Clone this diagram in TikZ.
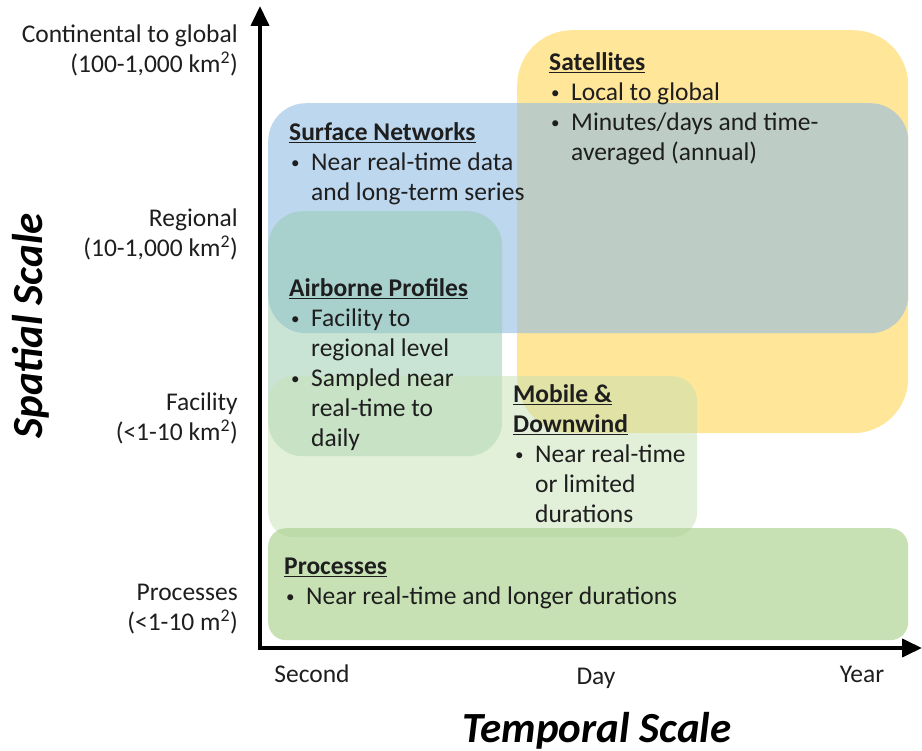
\documentclass[tikz,border=0pt]{standalone}
\usepackage{fontspec}
\setmainfont{Carlito}
\usetikzlibrary{arrows.meta}

\definecolor{satfill}{RGB}{255,230,153}
\definecolor{netfill}{RGB}{145,188,227}
\definecolor{airfill}{RGB}{147,201,172}
\definecolor{mobfill}{RGB}{197,224,180}
\definecolor{procfill}{RGB}{169,209,142}
\definecolor{txt}{RGB}{30,30,30}

\newcommand{\bul}{\makebox[22pt][l]{\hspace{2pt}\raisebox{2pt}{\fontsize{17}{17}\selectfont\textbullet}}}
\newcommand{\cnt}{\hspace*{22pt}}
\newcommand{\ttl}[1]{\underline{\textbf{#1}}}

\tikzset{
  box/.style={draw=none, rounded corners=#1, anchor=north west, inner sep=0pt},
  block/.style={anchor=north west, inner sep=0pt, align=left, text=txt,
    font=\fontsize{25.5}{30}\selectfont},
  ylab/.style={anchor=north east, inner sep=0pt, align=right, text=txt,
    font=\fontsize{25.5}{30}\selectfont},
  xlab/.style={anchor=base, inner sep=0pt, text=txt,
    font=\fontsize{25.5}{30}\selectfont},
  axtitle/.style={inner sep=0pt, font=\fontsize{43}{45}\selectfont\bfseries\itshape},
  axis/.style={line width=4pt, -{Triangle[length=20pt,width=18pt]}}
}

\begin{document}
\begin{tikzpicture}[x=1pt,y=-1pt]
  \useasboundingbox (0,0) rectangle (922,751);

  % boxes, back to front
  \node[box=55pt, fill=satfill, minimum width=391pt, minimum height=403pt] (sat) at (517,30) {};
  \node[box=38pt, fill=netfill, fill opacity=0.6, minimum width=640pt, minimum height=230pt] (net) at (268,103) {};
  \node[box=35pt, fill=airfill, fill opacity=0.5, minimum width=234pt, minimum height=245pt] (air) at (268,211) {};
  \node[box=25pt, fill=mobfill, fill opacity=0.5, minimum width=429pt, minimum height=161pt] (mob) at (268,376) {};
  \node[box=18pt, fill=procfill, fill opacity=0.65, minimum width=640pt, minimum height=112pt] (proc) at (268,528) {};

  % axes
  \coordinate (origin) at (260,648);
  \coordinate (ytop) at (260,6);
  \coordinate (xend) at (922,648);
  \draw[axis] ([yshift=-2pt]origin) -- (ytop);
  \draw[axis] ([xshift=-2pt]origin) -- (xend);

  % texts in the boxes
  \node[block] (sattxt) at (549,49) {\strut\ttl{Satellites}\\
    \bul Local to global\\
    \bul Minutes/days and time-\\
    \cnt averaged (annual)};
  \node[block] (nettxt) at (289,119) {\strut\ttl{Surface Networks}\\
    \bul Near real-time data\\
    \cnt and long-term series};
  \node[block] (airtxt) at (289,275) {\strut\ttl{Airborne Profiles}\\
    \bul Facility to\\
    \cnt regional level\\
    \bul Sampled near\\
    \cnt real-time to\\
    \cnt daily};
  \node[block] (mobtxt) at (513,381) {\strut\ttl{Mobile \&}\\
    \ttl{Downwind}\\
    \bul Near real-time\\
    \cnt or limited\\
    \cnt durations};
  \node[block] (proctxt) at (284,553) {\strut\ttl{Processes}\\
    \bul Near real-time and longer durations};

  % spatial scale
  \node[ylab] (global) at (238,21) {\strut Continental to global\\(100-1,000 km\textsuperscript{2})};
  \node[ylab] (regional) at (238,205) {\strut Regional\\(10-1,000 km\textsuperscript{2})};
  \node[ylab] (facility) at (238,389) {\strut Facility\\(<1-10 km\textsuperscript{2})};
  \node[ylab] (processes) at (238,579) {\strut Processes\\(<1-10 m\textsuperscript{2})};

  % temporal scale
  \node[xlab] (second) at (312,682) {Second};
  \node[xlab] (day) at (596,684) {Day};
  \node[xlab] (year) at (862,682) {Year};

  \node[axtitle, anchor=base] (ttitle) at (597,742) {Temporal Scale};
  \node[axtitle, rotate=90] (stitle) at (31,326) {Spatial Scale};
\end{tikzpicture}
\end{document}
